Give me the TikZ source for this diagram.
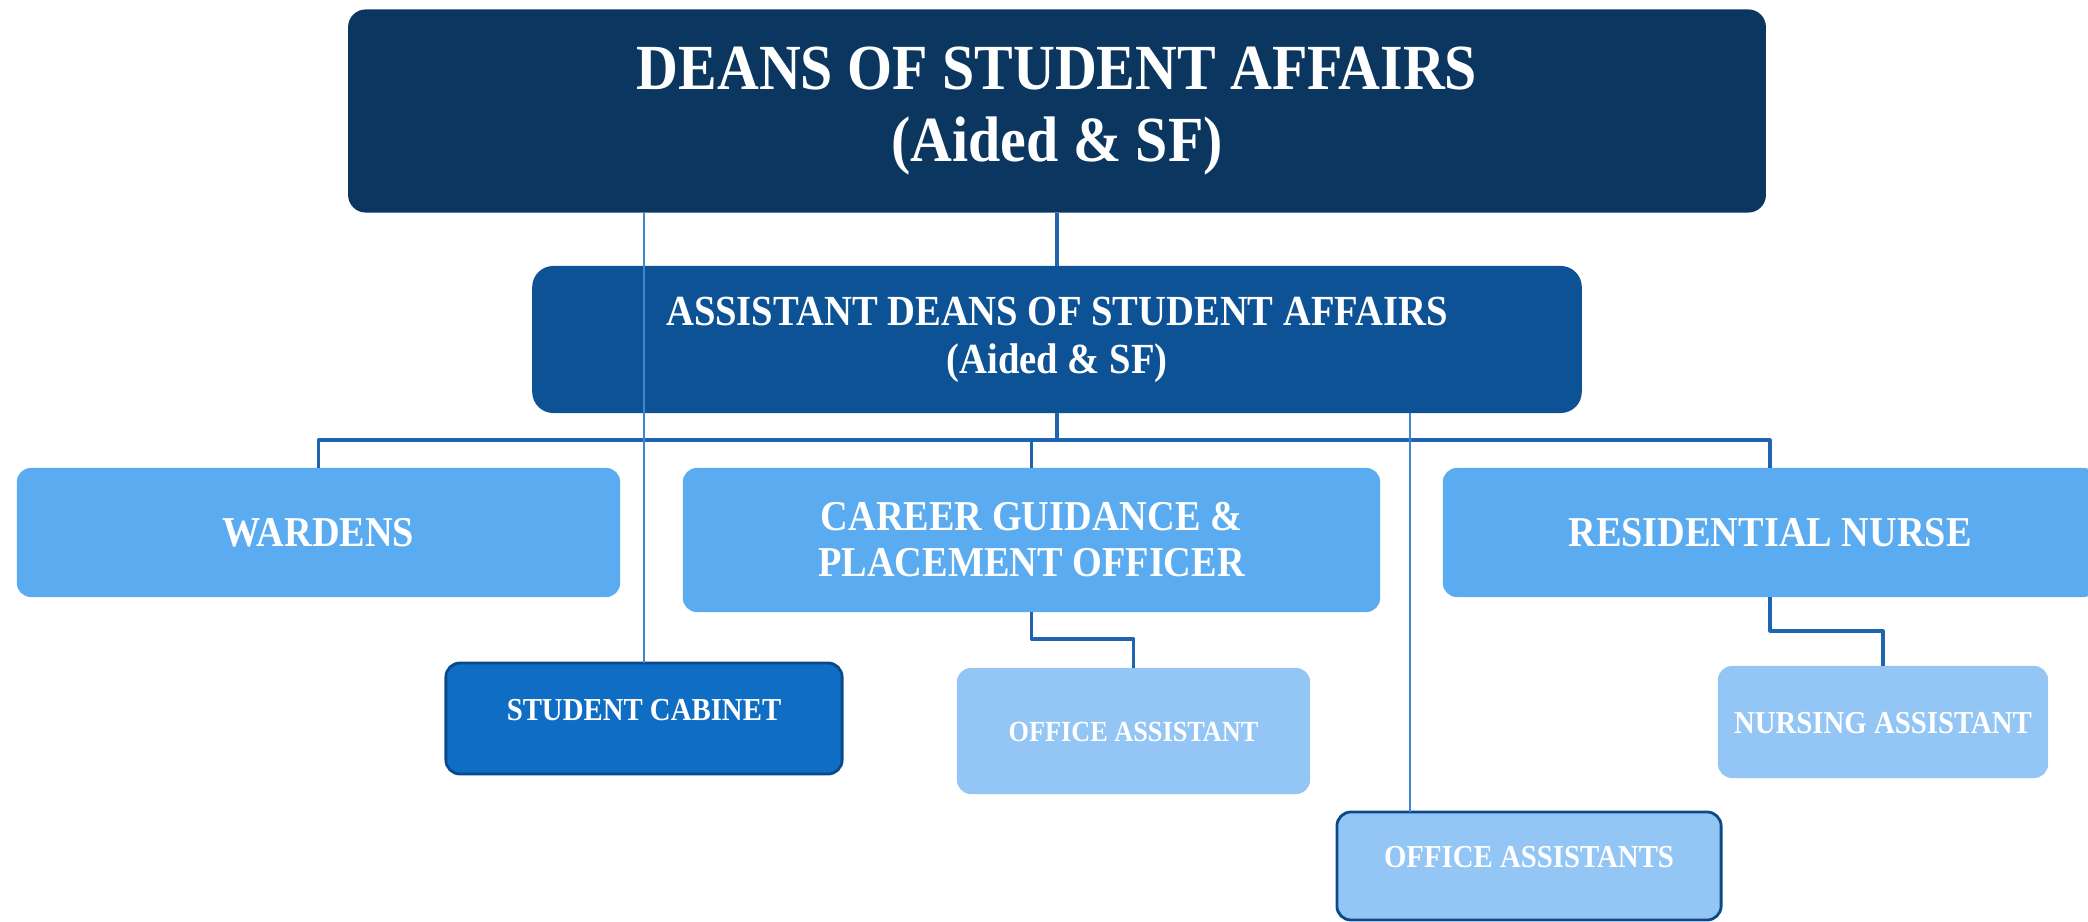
\documentclass[tikz,border=0pt]{standalone}
\usepackage{fontspec}
\setmainfont{Liberation Serif}[FakeStretch=0.9]

\definecolor{deanblue}{HTML}{0A365F}
\definecolor{asstblue}{HTML}{0D5294}
\definecolor{unitblue}{HTML}{5AABF0}
\definecolor{cabblue}{HTML}{0F6DC4}
\definecolor{cabedge}{HTML}{0B4A8A}
\definecolor{paleblue}{HTML}{93C5F5}
\definecolor{busblue}{HTML}{1E64AE}
\definecolor{thinblue}{HTML}{3F86D0}

\begin{document}
\begin{tikzpicture}[x=0.01cm, y=-0.01cm, line join=round,
  orgbox/.style={rectangle, inner sep=0pt, outer sep=0pt, text=white, align=center},
  unitbox/.style={orgbox, fill=unitblue, rounded corners=4pt, text height=0.28cm, text depth=0pt,
    font=\bfseries\fontsize{12.1}{13.1}\selectfont},
  smallbox/.style={orgbox, rounded corners=4pt, font=\bfseries\fontsize{9.1}{10}\selectfont},
  bus/.style={busblue, line width=0.9pt},
  thinlink/.style={thinblue, line width=0.6pt}]

  \useasboundingbox (0,0) rectangle (2088,922);

  % ========================================================
  % 1. TOP LEVELS
  % ========================================================
  \node[orgbox, fill=deanblue, rounded corners=5pt, minimum width=14.17cm, minimum height=2.03cm,
    font=\bfseries\fontsize{18.3}{20.4}\selectfont] (dean) at (1057,111)
    {DEANS OF STUDENT AFFAIRS\\(Aided \& SF)};

  \node[orgbox, fill=asstblue, rounded corners=6pt, minimum width=10.49cm, minimum height=1.47cm,
    font=\bfseries\fontsize{12.2}{13.7}\selectfont] (adean) at (1057,339.5)
    {ASSISTANT DEANS OF STUDENT AFFAIRS\\(Aided \& SF)};

  % ========================================================
  % 2. SECOND ROW
  % ========================================================
  \node[unitbox, minimum width=6.03cm, minimum height=1.29cm] (warden) at (318.5,532.5) {WARDENS};
  \node[unitbox, minimum width=6.97cm, minimum height=1.44cm, text height=, text depth=] (career) at (1031.5,540)
    {CAREER GUIDANCE \&\\PLACEMENT OFFICER};
  \node[unitbox, minimum width=6.54cm, minimum height=1.29cm] (nurse) at (1770,532.5) {RESIDENTIAL NURSE};

  % ========================================================
  % 3. THIRD ROW
  % ========================================================
  \node[smallbox, fill=cabblue, draw=cabedge, line width=0.8pt, minimum width=3.96cm, minimum height=1.11cm,
    text height=0.21cm, text depth=0.18cm] (cabinet) at (644,718.5) {STUDENT CABINET};
  \node[smallbox, fill=paleblue, minimum width=3.53cm, minimum height=1.26cm,
    font=\bfseries\fontsize{8.3}{9}\selectfont, text height=0.2cm, text depth=0pt] (offasst) at (1133.5,731)
    {OFFICE ASSISTANT};
  \node[smallbox, fill=paleblue, minimum width=3.30cm, minimum height=1.12cm,
    text height=0.22cm, text depth=0pt] (nursasst) at (1883,722) {NURSING ASSISTANT};
  \node[smallbox, fill=paleblue, draw=cabedge, line width=0.8pt, minimum width=3.84cm, minimum height=1.08cm,
    text height=0.22cm, text depth=0.2cm] (offassts) at (1529,866) {OFFICE ASSISTANTS};

  % ========================================================
  % 4. CONNECTORS
  % ========================================================
  \coordinate (oatop) at (1410,812);

  \draw[bus] (dean.south) -- (adean.north);
  \draw[bus] (adean.south) -- ++(0,27) coordinate (busmid);
  \draw[bus] (warden.north) |- (busmid) -| (nurse.north);
  \draw[bus] (career.north) -- (career.north |- busmid);

  \draw[bus] (career.south) -- ++(0,27) -| (offasst.north);
  \draw[bus] (nurse.south) -- ++(0,34) -| (nursasst.north);

  \draw[thinlink] (cabinet.north |- dean.south) -- (cabinet.north);
  \draw[thinlink] (oatop |- adean.south) -- (oatop);

\end{tikzpicture}
\end{document}
